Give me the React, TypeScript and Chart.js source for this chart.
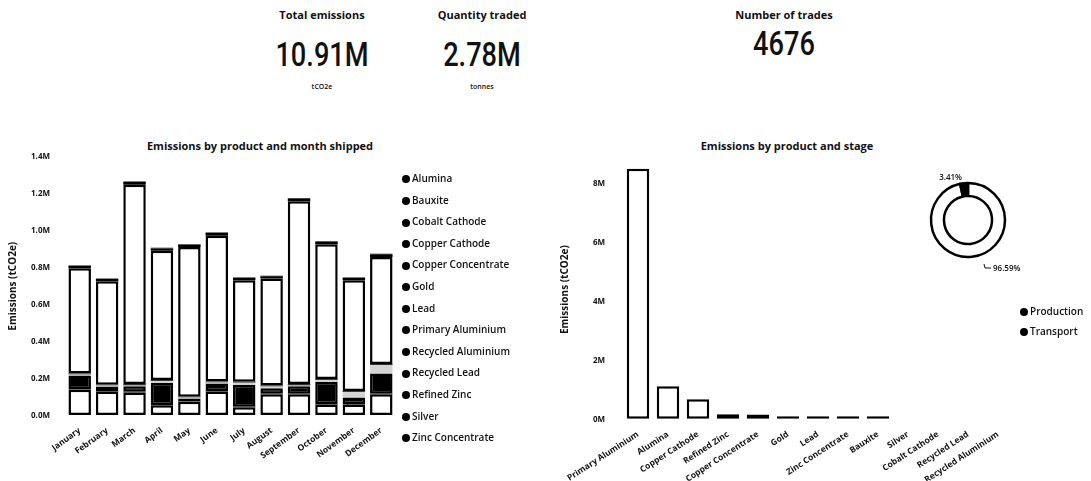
import React, { useEffect, useRef } from 'react';
import { Chart, registerables } from 'chart.js';

Chart.register(...registerables);

// ---------- data ----------
const months = ['January', 'February', 'March', 'April', 'May', 'June', 'July', 'August', 'September', 'October', 'November', 'December'];
const products = ['Alumina', 'Bauxite', 'Cobalt Cathode', 'Copper Cathode', 'Copper Concentrate', 'Gold', 'Lead', 'Primary Aluminium', 'Recycled Aluminium', 'Recycled Lead', 'Refined Zinc', 'Silver', 'Zinc Concentrate'];

// monthly emissions, millions tCO2e
const alumina = [0.14, 0.13, 0.125, 0.055, 0.075, 0.13, 0.045, 0.115, 0.115, 0.06, 0.06, 0.115];
const bauxite = [0.002, 0.002, 0.003, 0.002, 0.002, 0.003, 0.002, 0.002, 0.003, 0.002, 0.002, 0.003];
const cobaltCathode = [0, 0, 0, 0, 0, 0, 0, 0, 0, 0, 0, 0];
const copperCathode = [0.075, 0.025, 0.03, 0.12, 0.015, 0.04, 0.12, 0.03, 0.04, 0.12, 0.035, 0.11];
const copperConcentrate = [0.005, 0.005, 0.005, 0.01, 0.005, 0.005, 0.01, 0.01, 0.005, 0.01, 0.03, 0.045];
const gold = [0.003, 0.003, 0.004, 0.003, 0.003, 0.004, 0.003, 0.003, 0.004, 0.003, 0.003, 0.004];
const lead = [0.002, 0.002, 0.003, 0.002, 0.002, 0.002, 0.002, 0.002, 0.003, 0.002, 0.002, 0.002];
const primaryAluminium = [0.57, 0.56, 1.08, 0.70, 0.81, 0.79, 0.55, 0.58, 0.99, 0.73, 0.60, 0.58];
const recycledAluminium = [0, 0, 0, 0, 0, 0, 0, 0, 0, 0, 0, 0];
const recycledLead = [0, 0, 0, 0, 0, 0, 0, 0, 0, 0, 0, 0];
const refinedZinc = [0.012, 0.012, 0.014, 0.013, 0.012, 0.014, 0.012, 0.012, 0.015, 0.013, 0.012, 0.014];
const silver = [0.001, 0.001, 0.001, 0.001, 0.001, 0.001, 0.001, 0.001, 0.001, 0.001, 0.001, 0.001];
const zincConcentrate = [0.002, 0.002, 0.002, 0.002, 0.002, 0.002, 0.002, 0.002, 0.002, 0.002, 0.002, 0.002];
const monthlySeries = [alumina, bauxite, cobaltCathode, copperCathode, copperConcentrate, gold, lead, primaryAluminium, recycledAluminium, recycledLead, refinedZinc, silver, zincConcentrate];
const leftTicks = [0, 0.2, 0.4, 0.6, 0.8, 1.0, 1.2, 1.4];

// emissions by product, millions tCO2e
const stageProducts = ['Primary Aluminium', 'Alumina', 'Copper Cathode', 'Refined Zinc', 'Copper Concentrate', 'Gold', 'Lead', 'Zinc Concentrate', 'Bauxite', 'Silver', 'Cobalt Cathode', 'Recycled Lead', 'Recycled Aluminium'];
const productEmissions = [8.5, 1.12, 0.68, 0.17, 0.16, 0.04, 0.03, 0.03, 0.03, null, null, null, null];
const rightTicks = [0, 2, 4, 6, 8];

// stage split, percent
const stages = ['Production', 'Transport'];
const stageShares = [96.59, 3.41];

// KPI cards
const kpiTitles = ['Total emissions', 'Quantity traded', 'Number of trades'];
const kpiValues = ['10.91M', '2.78M', '4676'];
const kpiUnits = ['tCO2e', 'tonnes', ''];

// ---------- styling ----------
const INK = '#111111';
const FONT = '"Open Sans", "DejaVu Sans", sans-serif';

const segmentStyle = (p: string) => {
  if (p === 'Alumina' || p === 'Primary Aluminium') return { backgroundColor: '#ffffff', borderWidth: 2.5 };
  if (p === 'Copper Cathode') return { backgroundColor: '#000000', borderWidth: 2.5 };
  if (p === 'Copper Concentrate') return { backgroundColor: '#d4d4d4', borderWidth: 0 };
  return { backgroundColor: '#000000', borderWidth: 0 };
};

const donutLabelPlugin = {
  id: 'donutLabels',
  afterDraw(chart: any) {
    const arc = chart.getDatasetMeta(0).data[0];
    if (!arc) return;
    const { x, y } = arc;
    const ctx = chart.ctx;
    ctx.save();
    ctx.fillStyle = INK;
    ctx.strokeStyle = INK;
    ctx.lineWidth = 1;
    ctx.font = `600 8px ${FONT}`;
    ctx.textBaseline = 'middle';
    ctx.textAlign = 'right';
    ctx.fillText(stageShares[1].toFixed(2) + '%', x - 6, y - 42);
    ctx.textAlign = 'left';
    ctx.fillText(stageShares[0].toFixed(2) + '%', x + 25, y + 49);
    ctx.beginPath();
    ctx.moveTo(x + 16, y + 44);
    ctx.lineTo(x + 17, y + 48);
    ctx.lineTo(x + 23, y + 48);
    ctx.stroke();
    ctx.restore();
  },
};

export default function App() {
  const leftRef = useRef<HTMLCanvasElement>(null);
  const rightRef = useRef<HTMLCanvasElement>(null);
  const donutRef = useRef<HTMLCanvasElement>(null);

  useEffect(() => {
    const tickFont = { family: FONT, size: 8, weight: 'bold' as const };
    const catFont = { family: FONT, size: 8.5, weight: 'bold' as const };
    const axisTitleFont = { family: FONT, size: 10, weight: 'bold' as const };
    const hiddenTicks = (len: number) => ({ display: true, drawOnChartArea: false, drawTicks: true, tickLength: len, color: 'rgba(0,0,0,0)' });

    const left = new Chart(leftRef.current!, {
      type: 'bar',
      data: {
        labels: months,
        datasets: products.map((p, i) => ({
          label: p,
          data: monthlySeries[i],
          ...segmentStyle(p),
          borderColor: '#000000',
          borderSkipped: false as const,
          barPercentage: 0.82,
          categoryPercentage: 1,
        })),
      },
      options: {
        responsive: false,
        animation: false,
        devicePixelRatio: 1,
        layout: { padding: { left: 5, right: 125, top: 8, bottom: 0 } },
        plugins: { legend: { display: false }, tooltip: { enabled: false } },
        scales: {
          x: {
            stacked: true,
            grid: { display: false },
            border: { display: false },
            ticks: { color: INK, font: catFont, minRotation: 36, maxRotation: 36, padding: 2, autoSkip: false },
          },
          y: {
            stacked: true,
            min: 0,
            max: 1.4,
            grid: hiddenTicks(13),
            border: { display: false },
            afterBuildTicks: (s: any) => { s.ticks = leftTicks.map((v) => ({ value: v })); },
            afterFit: (s: any) => { s.width = 61; },
            ticks: { color: INK, font: tickFont, padding: 3, callback: (v: any) => Number(v).toFixed(1) + 'M' },
            title: { display: true, text: 'Emissions (tCO2e)', color: INK, font: axisTitleFont, padding: { top: 2, bottom: 2 } },
          },
        },
      },
    });

    const right = new Chart(rightRef.current!, {
      type: 'bar',
      data: {
        labels: stageProducts,
        datasets: [{
          label: 'Emissions',
          data: productEmissions,
          backgroundColor: '#ffffff',
          borderColor: '#000000',
          borderWidth: 2.5,
          borderSkipped: false,
          minBarLength: 3,
          barPercentage: 0.75,
          categoryPercentage: 1,
        }],
      },
      options: {
        responsive: false,
        animation: false,
        devicePixelRatio: 1,
        layout: { padding: { left: 9, right: 13, top: 12, bottom: 0 } },
        plugins: { legend: { display: false }, tooltip: { enabled: false } },
        scales: {
          x: {
            grid: { display: false },
            border: { display: false },
            ticks: { color: INK, font: catFont, minRotation: 33, maxRotation: 33, padding: 2, autoSkip: false },
          },
          y: {
            min: 0,
            max: 8.8,
            grid: hiddenTicks(15),
            border: { display: false },
            afterBuildTicks: (s: any) => { s.ticks = rightTicks.map((v) => ({ value: v })); },
            afterFit: (s: any) => { s.width = 66; },
            ticks: { color: INK, font: tickFont, padding: 3, callback: (v: any) => v + 'M' },
            title: { display: true, text: 'Emissions (tCO2e)', color: INK, font: axisTitleFont, padding: { top: 2, bottom: 2 } },
          },
        },
      },
    });

    const donut = new Chart(donutRef.current!, {
      type: 'doughnut',
      data: {
        labels: stages,
        datasets: [{
          data: stageShares,
          backgroundColor: ['#ffffff', '#000000'],
          borderColor: '#000000',
          borderWidth: 2.5,
          radius: 37,
        }],
      },
      options: {
        responsive: false,
        animation: false,
        devicePixelRatio: 1,
        cutout: '65%',
        plugins: { legend: { display: false }, tooltip: { enabled: false } },
      },
      plugins: [donutLabelPlugin],
    });

    return () => { left.destroy(); right.destroy(); donut.destroy(); };
  }, []);

  const kpiCenters = [322, 482, 784];
  const kpiValueTops = [37, 37, 26];

  const dot = (size: number) => ({ display: 'inline-block', width: size, height: size, borderRadius: '50%', background: '#000', marginRight: 2, verticalAlign: 'middle' });
  const chartTitle = (text: string, cx: number) => (
    <div style={{ position: 'absolute', left: cx - 200, width: 400, top: 139, textAlign: 'center', fontSize: 11, fontWeight: 700, lineHeight: '14px' }}>{text}</div>
  );

  return (
    <div style={{ position: 'absolute', left: 0, top: 0, width: 1091, height: 481, background: '#fff', overflow: 'hidden', fontFamily: FONT, color: INK }}>
      {kpiTitles.map((t, i) => (
        <React.Fragment key={t}>
          <div style={{ position: 'absolute', left: kpiCenters[i] - 100, width: 200, top: 8, textAlign: 'center', fontSize: 11, fontWeight: 700, lineHeight: '14px' }}>{t}</div>
          <div style={{ position: 'absolute', left: kpiCenters[i] - 100, width: 200, top: kpiValueTops[i], textAlign: 'center', fontFamily: 'Roboto, sans-serif', fontSize: 34, fontWeight: 500, lineHeight: '34px', transform: 'scaleX(0.8)' }}>{kpiValues[i]}</div>
          {kpiUnits[i] && (
            <div style={{ position: 'absolute', left: kpiCenters[i] - 100, width: 200, top: 82, textAlign: 'center', fontSize: 7, fontWeight: 600, lineHeight: '10px' }}>{kpiUnits[i]}</div>
          )}
        </React.Fragment>
      ))}

      {chartTitle('Emissions by product and month shipped', 260)}
      <canvas ref={leftRef} width={520} height={314} style={{ position: 'absolute', left: 0, top: 149, width: 520, height: 314 }} />
      <div style={{ position: 'absolute', left: 402, top: 171 }}>
        {products.map((p) => (
          <div key={p} style={{ height: 21.6, lineHeight: '14px', fontSize: 10, fontWeight: 600, whiteSpace: 'nowrap' }}>
            <span style={dot(8)} />{p}
          </div>
        ))}
      </div>

      {chartTitle('Emissions by product and stage', 787)}
      <canvas ref={rightRef} width={478} height={339} style={{ position: 'absolute', left: 548, top: 148, width: 478, height: 339 }} />
      <canvas ref={donutRef} width={120} height={120} style={{ position: 'absolute', left: 908, top: 160, width: 120, height: 120 }} />
      <div style={{ position: 'absolute', left: 1020, top: 304 }}>
        {stages.map((s) => (
          <div key={s} style={{ height: 20, lineHeight: '14px', fontSize: 10, fontWeight: 600, whiteSpace: 'nowrap' }}>
            <span style={dot(8)} />{s}
          </div>
        ))}
      </div>
    </div>
  );
}
